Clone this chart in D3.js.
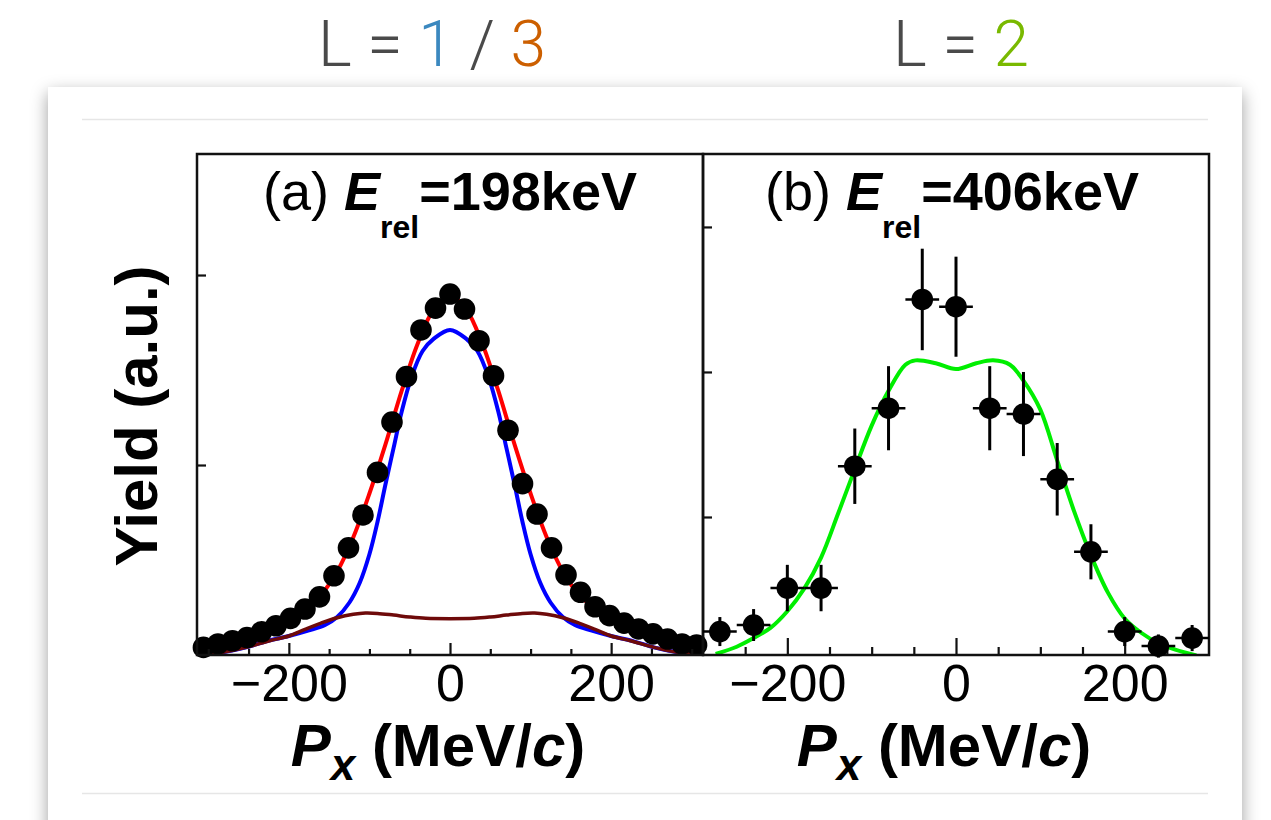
<!DOCTYPE html>
<html><head><meta charset="utf-8">
<script src="https://cdn.jsdelivr.net/npm/d3@7"></script>
<style>
html,body{margin:0;padding:0;background:#fff;width:1271px;height:820px;overflow:hidden;}
#card{position:absolute;left:48px;top:87px;width:1194px;height:800px;background:#fff;box-shadow:0 6px 16px rgba(0,0,0,0.38);}
svg{position:absolute;left:0;top:0;}
</style></head><body>
<div id="card"></div>
<svg id="chart" width="1271" height="820"></svg>
<script>
// ---------- data: panel (a) E_rel = 198 keV ----------
const pxA = [-306,-288,-270,-252,-234,-216,-198,-180,-162,-144,-126,-108,-90,-72,-54,-36,-18,0,18,36,54,72,90,108,126,144,162,180,198,216,234,252,270,288,306];
const yieldA = [0.040,0.058,0.075,0.092,0.122,0.154,0.193,0.242,0.306,0.417,0.564,0.737,0.961,1.226,1.465,1.711,1.826,1.900,1.821,1.654,1.470,1.183,0.902,0.742,0.564,0.422,0.330,0.254,0.207,0.168,0.137,0.111,0.084,0.058,0.053];
const totalX = [-314,-300,-280,-260,-240,-220,-200,-180,-160,-140,-120,-100,-80,-60,-40,-20,0,20,40,60,80,100,120,140,160,180,200,220,240,260,280,300,314];
const totalA = [0.03,0.042,0.062,0.082,0.108,0.142,0.188,0.245,0.318,0.44,0.62,0.85,1.11,1.39,1.64,1.82,1.89,1.82,1.64,1.39,1.11,0.85,0.62,0.44,0.318,0.245,0.188,0.142,0.108,0.082,0.062,0.042,0.03];
const l1X = [-314,-282,-253,-228,-200,-175,-155,-140,-125,-112,-100,-90,-80,-70,-60,-48,-34,-20,0,20,34,48,60,70,80,90,100,112,125,140,155,175,200,228,253,282,314];
const l1A = [0.0,0.014,0.04,0.072,0.10,0.13,0.158,0.20,0.275,0.38,0.53,0.70,0.90,1.09,1.28,1.46,1.60,1.665,1.711,1.665,1.60,1.46,1.28,1.09,0.90,0.70,0.53,0.38,0.275,0.20,0.158,0.13,0.10,0.072,0.04,0.014,0.0];
const l3X = [-314,-282,-253,-224,-200,-180,-160,-140,-120,-105,-90,-70,-50,-30,0,30,50,70,90,105,120,140,160,180,200,224,253,282,314];
const l3A = [0.0,0.014,0.04,0.075,0.10,0.135,0.168,0.196,0.214,0.221,0.219,0.21,0.2,0.193,0.191,0.193,0.2,0.21,0.219,0.221,0.214,0.196,0.168,0.135,0.10,0.075,0.04,0.014,0.0];
// ---------- data: panel (b) E_rel = 406 keV ----------
const pxB = [-280,-240,-200,-160,-120,-80,-40,0,40,80,120,160,200,240,280];
const yieldB = [2.1,2.55,5.1,5.1,13.5,17.5,25.0,24.5,17.5,17.1,12.6,7.6,2.1,1.1,1.65];
const errB = [1.0,1.1,1.6,1.6,2.6,2.9,3.5,3.45,2.9,2.9,2.5,1.9,1.0,0.8,0.9];
const binHalfB = 20;
const fitXB = [-285,-260,-240,-220,-200,-180,-160,-140,-120,-100,-80,-60,-48,-24,0,24,44,64,80,100,120,140,160,180,200,220,240,260,285];
const fitB = [0.55,1.05,1.65,2.35,3.5,5.06,7.2,10.2,13.3,16.3,18.7,20.5,20.8,20.6,20.2,20.6,20.8,20.5,19.4,17.4,13.9,10.4,7.35,4.8,3.0,2.0,1.3,0.85,0.45];
// ---------- ticks / labels ----------
const majorTicks = [-200,0,200];
const minorTicksA = [-300,-250,-150,-100,-50,50,100,150,250,300];
const minorTicksB = [-250,-150,-100,-50,50,100,150,250];
const yTicksA = [1,2];
const yTicksB = [10,20,30];

const svg = d3.select('#chart');
const FONT = '"Liberation Sans", Arial, Helvetica, sans-serif';
const yTop = 154, yBot = 655;
const xA = d3.scaleLinear().domain([-314,314]).range([197,703]);
const yA = d3.scaleLinear().domain([0,2.637]).range([yBot,yTop]);
const xB = d3.scaleLinear().domain([-300,300]).range([703,1209]);
const yB = d3.scaleLinear().domain([0.483,35.03]).range([yBot,yTop]);

// inner separator lines of card
svg.append('line').attr('x1',82).attr('x2',1208).attr('y1',119.5).attr('y2',119.5).attr('stroke','#e6e6e6').attr('stroke-width',1.5);
svg.append('line').attr('x1',82).attr('x2',1208).attr('y1',793.5).attr('y2',793.5).attr('stroke','#e6e6e6').attr('stroke-width',1.5);

// header
const head = svg.append('g').attr('font-family','Roboto, "Open Sans", sans-serif').attr('font-weight',300).attr('font-size',64).attr('text-anchor','middle');
const h1 = head.append('text').attr('x',432).attr('y',66).attr('fill','#4a4a4a');
h1.append('tspan').text('L = ');
h1.append('tspan').attr('fill','#3b88bf').text('1');
h1.append('tspan').text(' / ');
h1.append('tspan').attr('fill','#cc5f00').text('3');
const h2 = head.append('text').attr('x',961).attr('y',66).attr('fill','#4a4a4a');
h2.append('tspan').text('L = ');
h2.append('tspan').attr('fill','#79b900').text('2');

const defs = svg.append('defs');
defs.append('clipPath').attr('id','clipA').append('rect').attr('x',197).attr('y',yTop).attr('width',506).attr('height',yBot-yTop);
defs.append('clipPath').attr('id','clipB').append('rect').attr('x',703).attr('y',yTop).attr('width',506).attr('height',yBot-yTop);

function curve(g, xs, ys, x, y, color, w, clip){
  const line = d3.line().x(d=>x(d[0])).y(d=>y(d[1])).curve(d3.curveCatmullRom.alpha(0.5));
  g.append('path').attr('d', line(xs.map((v,i)=>[v,ys[i]]))).attr('fill','none')
   .attr('stroke',color).attr('stroke-width',w).attr('stroke-linejoin','round').attr('clip-path','url(#'+clip+')');
}

// panel a curves
const gA = svg.append('g');
curve(gA, totalX, totalA, xA, yA, '#ff0000', 4, 'clipA');
curve(gA, l1X, l1A, xA, yA, '#0000ff', 4, 'clipA');
curve(gA, l3X, l3A, xA, yA, '#6e0a0a', 3.5, 'clipA');
// panel b curve
const gB = svg.append('g');
curve(gB, fitXB, fitB, xB, yB, '#00ee00', 4, 'clipB');

// frames
svg.append('rect').attr('x',197).attr('y',yTop).attr('width',506).attr('height',yBot-yTop).attr('fill','none').attr('stroke','#111').attr('stroke-width',2.5);
svg.append('rect').attr('x',703).attr('y',yTop).attr('width',506).attr('height',yBot-yTop).attr('fill','none').attr('stroke','#111').attr('stroke-width',2.5);

function xAxis(x, minors, majLen, minLen){
  const g = svg.append('g').attr('transform','translate(0,'+yBot+')');
  g.call(d3.axisBottom(x).tickValues(minors).tickSize(-minLen).tickFormat(''));
  const gm = svg.append('g').attr('transform','translate(0,'+yBot+')');
  gm.call(d3.axisBottom(x).tickValues(majorTicks).tickSize(-majLen).tickPadding(9).tickFormat(d3.format('d')));
  [g,gm].forEach(a=>{a.select('.domain').remove(); a.selectAll('line').attr('stroke','#111').attr('stroke-width',2.2);});
  gm.selectAll('text').attr('font-family',FONT).attr('font-size',52).attr('fill','#000');
}
xAxis(xA, minorTicksA, 12, 6);
xAxis(xB, minorTicksB, 17, 8);

function yAxis(y, ticks, x0){
  const g = svg.append('g').attr('transform','translate('+x0+',0)');
  g.call(d3.axisLeft(y).tickValues(ticks).tickSize(-9).tickFormat(''));
  g.select('.domain').remove();
  g.selectAll('line').attr('stroke','#111').attr('stroke-width',2.2);
}
yAxis(yA, yTicksA, 197);
yAxis(yB, yTicksB, 703);

// panel a points
gA.selectAll('circle.pt').data(pxA).enter().append('circle')
  .attr('cx',d=>xA(d)).attr('cy',(d,i)=>yA(yieldA[i])).attr('r',10.8).attr('fill','#000');

// panel b error bars + points
const pb = svg.append('g');
pb.selectAll('line.v').data(pxB).enter().append('line')
  .attr('x1',d=>xB(d)).attr('x2',d=>xB(d))
  .attr('y1',(d,i)=>yB(yieldB[i]-errB[i])).attr('y2',(d,i)=>yB(yieldB[i]+errB[i]))
  .attr('stroke','#000').attr('stroke-width',3);
pb.selectAll('line.h').data(pxB).enter().append('line')
  .attr('x1',d=>xB(d-binHalfB)).attr('x2',d=>xB(d+binHalfB))
  .attr('y1',(d,i)=>yB(yieldB[i])).attr('y2',(d,i)=>yB(yieldB[i]))
  .attr('stroke','#000').attr('stroke-width',2.5);
pb.selectAll('circle').data(pxB).enter().append('circle')
  .attr('cx',d=>xB(d)).attr('cy',(d,i)=>yB(yieldB[i])).attr('r',10.8).attr('fill','#000');

// panel titles
function panelTitle(cx, tag, val){
  const t = svg.append('text').attr('x',cx).attr('y',210).attr('text-anchor','middle')
    .attr('font-family',FONT).attr('font-size',54).attr('fill','#000');
  t.append('tspan').text(tag+' ');
  t.append('tspan').attr('font-weight','bold').attr('font-style','italic').text('E');
  t.append('tspan').attr('font-weight','bold').attr('font-size',32).attr('dy',28).text('rel');
  t.append('tspan').attr('font-weight','bold').attr('dy',-28).text('='+val+'keV');
}
panelTitle(450,'(a)','198');
panelTitle(952,'(b)','406');

// x axis titles
function xTitle(cx){
  const t = svg.append('text').attr('x',cx).attr('y',766).attr('text-anchor','middle')
    .attr('font-family',FONT).attr('font-size',60).attr('font-weight','bold').attr('fill','#000');
  t.append('tspan').attr('font-style','italic').text('P');
  t.append('tspan').attr('font-style','italic').attr('font-size',44).attr('dy',14).text('x');
  t.append('tspan').attr('dy',-14).text(' (MeV/');
  t.append('tspan').attr('font-style','italic').text('c');
  t.append('tspan').text(')');
}
xTitle(438);
xTitle(944);

// y axis title
svg.append('text').attr('transform','translate(157,416) rotate(-90)').attr('text-anchor','middle')
  .attr('font-family',FONT).attr('font-size',60).attr('font-weight','bold').attr('fill','#000').text('Yield (a.u.)');
</script>
</body></html>
